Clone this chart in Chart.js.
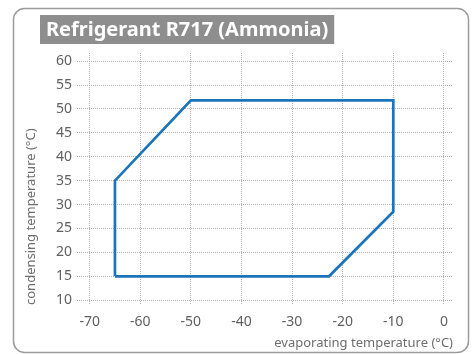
<!DOCTYPE html>
<html>
<head>
<meta charset="utf-8">
<title>Refrigerant R717 (Ammonia)</title>
<script src="https://cdn.jsdelivr.net/npm/chart.js@4/dist/chart.umd.min.js"></script>
<style>
  html, body { margin: 0; padding: 0; background: #ffffff; }
  canvas { display: block; }
</style>
</head>
<body>
<canvas id="envelope" width="474" height="354"></canvas>
<script>
// Operating envelope corners (evaporating / condensing temperature, °C)
const evaporatingTemps = [-65, -65, -50, -10, -10, -22.7, -65];
const condensingTemps  = [15, 35, 51.8, 51.8, 28.5, 15, 15];

const chartTitle = 'Refrigerant R717 (Ammonia)';
const xAxisTitle = 'evaporating temperature (°C)';
const yAxisTitle = 'condensing temperature (°C)';

const xTickValues = [-70, -60, -50, -40, -30, -20, -10, 0];
const yTickValues = [10, 15, 20, 25, 30, 35, 40, 45, 50, 55, 60];

const FONT = '"Noto Sans", "Open Sans", sans-serif';

// Rounded frame and grey title banner behind the chart
const framePlugin = {
  id: 'frame',
  beforeDraw(chart) {
    const ctx = chart.ctx;
    ctx.save();
    ctx.strokeStyle = '#9c9c9c';
    ctx.lineWidth = 1.5;
    ctx.beginPath();
    ctx.roundRect(13.5, 8.5, 455, 344, 11);
    ctx.stroke();

    ctx.font = 'bold 20px ' + FONT;
    const w = ctx.measureText(chartTitle).width;
    ctx.fillStyle = '#8e8e8e';
    ctx.fillRect(40, 15, w + 12, 29);
    ctx.fillStyle = '#ffffff';
    ctx.textBaseline = 'middle';
    ctx.textAlign = 'left';
    ctx.fillText(chartTitle, 46, 30);
    ctx.restore();
  }
};

const points = evaporatingTemps.map((x, i) => ({ x, y: condensingTemps[i] }));

const keepTicks = (values) => (scale) => {
  scale.ticks = values.map(v => ({ value: v }));
};

new Chart(document.getElementById('envelope'), {
  type: 'scatter',
  data: {
    datasets: [{
      data: points,
      showLine: true,
      borderColor: '#1a74bb',
      borderWidth: 2.7,
      borderJoinStyle: 'miter',
      pointRadius: 0,
      fill: false,
      tension: 0
    }]
  },
  options: {
    responsive: false,
    animation: false,
    layout: { padding: { top: 53, right: 21, left: 0, bottom: 0 } },
    plugins: {
      legend: { display: false },
      tooltip: { enabled: false },
      title: { display: false }
    },
    scales: {
      x: {
        type: 'linear',
        min: -72.5,
        max: 1.8,
        afterBuildTicks: keepTicks(xTickValues),
        afterFit(scale) { scale.height = 49; },
        grid: { color: '#b3b3b3', lineWidth: 1, drawTicks: false },
        border: { display: false, dash: [1, 1] },
        ticks: {
          color: '#606060',
          padding: 9,
          font: { family: FONT, size: 14 }
        },
        title: {
          display: true,
          text: xAxisTitle,
          align: 'end',
          color: '#6e6e6e',
          font: { family: FONT, size: 13 },
          padding: { top: 0, bottom: 3 }
        }
      },
      y: {
        type: 'linear',
        min: 9,
        max: 61.7,
        afterBuildTicks: keepTicks(yTickValues),
        afterFit(scale) { scale.width = 77; },
        grid: { color: '#b3b3b3', lineWidth: 1, drawTicks: false },
        border: { display: false, dash: [1, 1] },
        ticks: {
          color: '#606060',
          padding: 5,
          font: { family: FONT, size: 14 }
        },
        title: {
          display: true,
          text: yAxisTitle,
          align: 'start',
          color: '#6e6e6e',
          font: { family: FONT, size: 13 },
          padding: { top: 23, bottom: 0 }
        }
      }
    }
  },
  plugins: [framePlugin]
});
</script>
</body>
</html>
